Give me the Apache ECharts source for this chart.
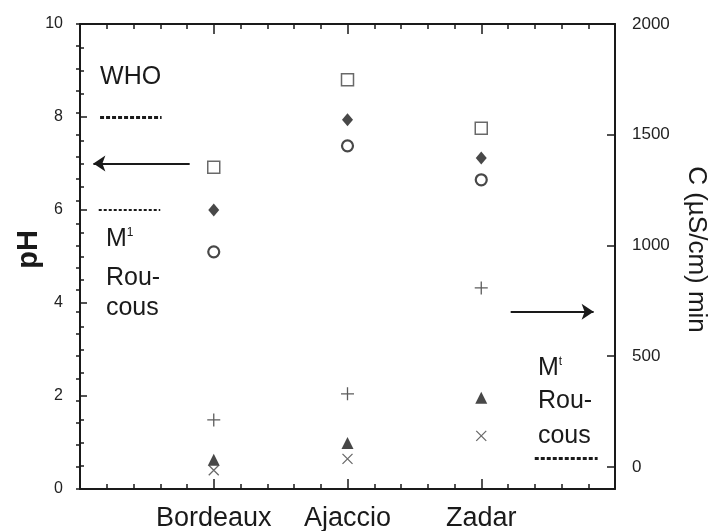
<!DOCTYPE html>
<html>
<head>
<meta charset="utf-8">
<script src="https://cdn.jsdelivr.net/npm/echarts@6/dist/echarts.min.js"></script>
<style>
  html, body { margin: 0; padding: 0; background: #fff; }
  #chart { width: 709px; height: 531px; }
</style>
</head>
<body>
<div id="chart"></div>
<script>
// sites sit on a 0..20 value axis so the minor ticks between them match the original
const sites = ["Bordeaux", "Ajaccio", "Zadar"]
const sitePos = [5, 10, 15]
// pH (left axis)
const phSquare = [6.92, 8.80, 7.76]
const phDiamond = [6.0, 7.94, 7.12]
const phCircle = [5.10, 7.38, 6.65]
// conductivity, µS/cm (right axis)
const condPlus = [212, 330, 808]
const condTriangle = [32, 108, 312]
const condCross = [-15, 36, 140]
const condTicks = [0, 500, 1000, 1500, 2000]
// reference limits
const whoLimit = 8
const m1Limit = 6
const mtLimit = 40

const font = "Liberation Sans, Arial, sans-serif"
const ink = "#1a1a1a"
const pts = (vals) => sitePos.map((x, i) => [x, vals[i]])

const frame = (extra) => Object.assign({
  type: "value",
  axisLine: { show: true, onZero: false, lineStyle: { color: ink, width: 2 } },
  splitLine: { show: false },
}, extra)

const label = (text, coord, size = 25) => ({
  coord,
  symbol: "circle",
  symbolSize: 0,
  label: {
    show: true, position: "right", distance: 0, formatter: text,
    fontFamily: font, fontSize: size, color: ink,
    rich: {
      m: { fontFamily: font, fontSize: size, color: ink },
      s: { fontFamily: font, fontSize: 12, color: ink, verticalAlign: "top" },
    },
  },
})

const chart = echarts.init(document.getElementById("chart"))
chart.setOption({
  animation: false,
  backgroundColor: "#fff",
  grid: { left: 80, right: 94, top: 24, bottom: 42, outerBoundsMode: "none", containLabel: false },
  xAxis: [
    frame({
      position: "bottom", min: 0, max: 20, interval: 5,
      axisTick: { show: true, inside: true, length: 10, lineStyle: { color: ink, width: 1.5 } },
      minorTick: { show: true, splitNumber: 5, length: 5, lineStyle: { color: ink, width: 1.5 } },
      axisLabel: {
        formatter: (v) => { const i = sitePos.indexOf(v); return i < 0 ? "" : sites[i] },
        fontFamily: font, fontSize: 27, color: ink, margin: 16,
      },
    }),
    frame({
      position: "top", min: 0, max: 20, interval: 5,
      axisTick: { show: true, inside: true, length: 10, lineStyle: { color: ink, width: 1.5 } },
      minorTick: { show: true, splitNumber: 5, length: 5, lineStyle: { color: ink, width: 1.5 } },
      axisLabel: { show: false },
    }),
  ],
  yAxis: [
    frame({
      position: "left", min: 0, max: 10, interval: 2,
      axisTick: { show: true, inside: true, length: 7, lineStyle: { color: ink, width: 1.5 } },
      minorTick: { show: true, splitNumber: 4, length: 4, lineStyle: { color: ink, width: 1.5 } },
      axisLabel: { fontFamily: font, fontSize: 16, color: "#222", margin: 17 },
      name: "pH", nameLocation: "middle", nameRotate: 90, nameGap: 37, nameMoveOverlap: false,
      nameTextStyle: { fontFamily: font, fontSize: 29, fontWeight: "bold", color: ink, padding: [0, 0, 0, 14] },
    }),
    frame({
      position: "right", min: -100, max: 2000, interval: 100,
      axisTick: { show: true, inside: true, length: 8, customValues: condTicks, lineStyle: { color: ink, width: 1.5 } },
      axisLabel: { customValues: condTicks, formatter: (v) => String(v), fontFamily: font, fontSize: 17, color: "#222", margin: 17 },
      name: "C (\u00b5S/cm) min", nameLocation: "middle", nameRotate: -90, nameGap: 68, nameMoveOverlap: false,
      nameTextStyle: { fontFamily: font, fontSize: 26, color: ink, padding: [0, 14, 0, 0] },
    }),
    frame({
      position: "right", min: -100, max: 2000, interval: 100,
      axisLine: { show: false },
      axisTick: { show: true, inside: true, length: 4, lineStyle: { color: ink, width: 1.5 } },
      axisLabel: { show: false },
    }),
  ],
  series: [
    {
      type: "scatter", yAxisIndex: 0, data: pts(phSquare),
      symbol: "rect", symbolSize: 12,
      itemStyle: { color: "#fff", borderColor: "#444", borderWidth: 1.5 },
      markLine: {
        silent: true, animation: false, symbol: ["none", "none"], label: { show: false },
        lineStyle: { color: ink, type: "solid", width: 2 },
        data: [
          [{ coord: [0.75, whoLimit], lineStyle: { type: [4, 2], width: 3, color: ink } }, { coord: [3.05, whoLimit] }],
          [{ coord: [0.7, m1Limit], lineStyle: { type: [3, 2], width: 2, color: ink } }, { coord: [3.0, m1Limit] }],
          [{ coord: [4.1, 7], lineStyle: { type: "solid", width: 2, color: ink } },
           { coord: [0.5, 7], symbol: "arrow", symbolSize: 12 }],
        ],
      },
      markPoint: {
        silent: true, animation: false,
        data: [
          label("WHO", [0.75, 8.86]),
          label("{m|M}{s|1}", [0.97, 5.38]),
          label("Rou-", [0.97, 4.54]),
          label("cous", [0.97, 3.88]),
        ],
      },
    },
    {
      type: "scatter", yAxisIndex: 0, data: pts(phDiamond),
      symbol: "diamond", symbolSize: [11, 13], itemStyle: { color: ink },
    },
    {
      type: "scatter", yAxisIndex: 0, data: pts(phCircle),
      symbol: "circle", symbolSize: 11,
      itemStyle: { color: "#fff", borderColor: ink, borderWidth: 2.2 },
    },
    {
      type: "scatter", yAxisIndex: 1, data: pts(condPlus),
      symbol: "path://M0 6H12M6 0V12", symbolSize: 13,
      itemStyle: { color: "none", borderColor: "#333", borderWidth: 1.3 },
      markLine: {
        silent: true, animation: false, symbol: ["none", "none"], label: { show: false },
        lineStyle: { color: ink, type: "solid", width: 2 },
        data: [
          [{ coord: [16.1, 700], lineStyle: { type: "solid", width: 2, color: ink } },
           { coord: [19.2, 700], symbol: "arrow", symbolSize: 12 }],
          [{ coord: [17.0, mtLimit], lineStyle: { type: [4, 2], width: 3, color: ink } }, { coord: [19.35, mtLimit] }],
        ],
      },
      markPoint: {
        silent: true, animation: false,
        data: [
          label("{m|M}{s|t}", [17.12, 447]),
          label("Rou-", [17.12, 298]),
          label("cous", [17.12, 140]),
        ],
      },
    },
    {
      type: "scatter", yAxisIndex: 1, data: pts(condTriangle),
      symbol: "triangle", symbolSize: 12, itemStyle: { color: ink },
    },
    {
      type: "scatter", yAxisIndex: 1, data: pts(condCross),
      symbol: "path://M0 0L10 10M10 0L0 10", symbolSize: 10,
      itemStyle: { color: "none", borderColor: "#444", borderWidth: 1.3 },
    },
  ],
})
</script>
</body>
</html>
